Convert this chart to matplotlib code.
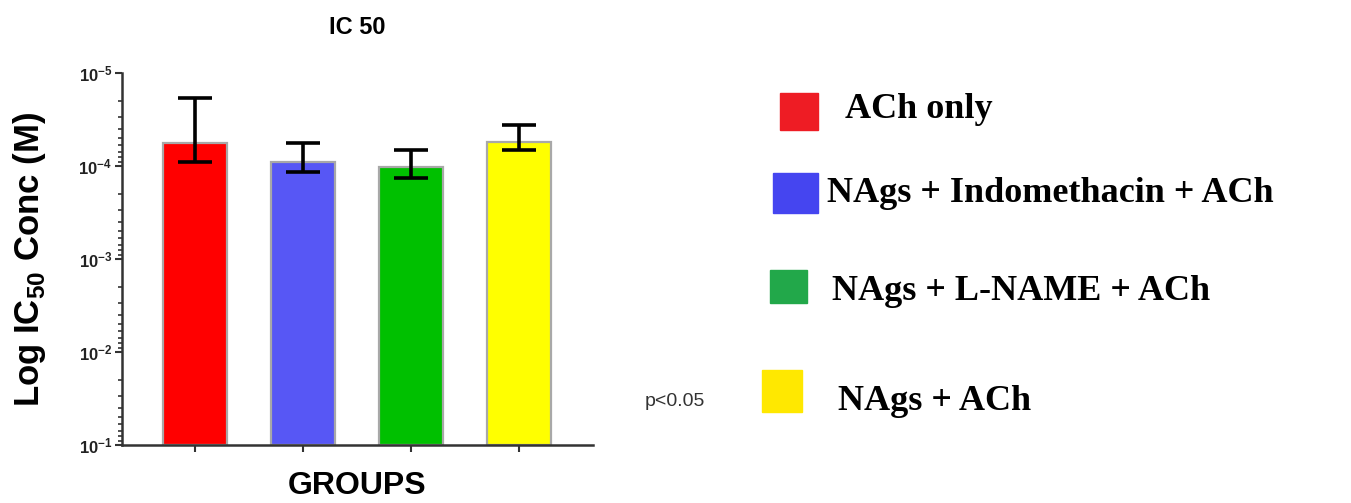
import numpy as np
import matplotlib
matplotlib.use("Agg")
import matplotlib.pyplot as plt

plt.rcParams['font.family'] = ['Liberation Sans', 'DejaVu Sans']
plt.rcParams['mathtext.fontset'] = 'custom'
plt.rcParams['mathtext.rm'] = 'Liberation Sans'
plt.rcParams['mathtext.bf'] = 'Liberation Sans:bold'

# IC50 (M) per group, with the lower / upper ends of the error bars
groups = ['ACh only', 'NAgs + Indomethacin + ACh', 'NAgs + L-NAME + ACh', 'NAgs + ACh']
ic50 = [5.7e-5, 9.0e-5, 1.02e-4, 5.5e-5]
err_low = [1.86e-5, 5.7e-5, 6.7e-5, 3.6e-5]
err_high = [9.06e-5, 1.16e-4, 1.35e-4, 6.7e-5]
colors = ['#ff0000', '#5757f5', '#00c000', '#ffff00']
legend_colors = ['#ee1c24', '#4545f0', '#22a84a', '#ffe800']
y_ticks = [1e-5, 1e-4, 1e-3, 1e-2, 1e-1]
y_ticklabels = [r'$\mathbf{10^{-5}}$', r'$\mathbf{10^{-4}}$', r'$\mathbf{10^{-3}}$',
                r'$\mathbf{10^{-2}}$', r'$\mathbf{10^{-1}}$']

fig = plt.figure(figsize=(13.51, 5.03), dpi=100)
ax = fig.add_axes([122 / 1351, 1 - 445 / 503, 471 / 1351, 372 / 503])

x = np.arange(len(groups))
vals = np.array(ic50)
base = 1e-1
ax.bar(x, vals - base, bottom=base, width=0.6, color=colors,
       edgecolor='#a8a8a8', linewidth=1.6, zorder=2)
yerr = np.array([vals - np.array(err_low), np.array(err_high) - vals])
ax.errorbar(x, vals, yerr=yerr, fmt='none', ecolor='black',
            elinewidth=2.6, capsize=12.5, capthick=2.6, zorder=3)

ax.set_yscale('log')
ax.set_ylim(1e-1, 1e-5)
ax.set_xlim(-0.676, 3.685)
ax.set_yticks(y_ticks)
ax.set_yticklabels(y_ticklabels, fontsize=12, color='#222222')
ax.set_xticks(x)
ax.set_xticklabels([])
ax.tick_params(axis='both', which='major', direction='out', length=5, width=1.5,
               color='#333333', pad=2)
ax.tick_params(axis='y', which='minor', direction='out', length=3, width=1.2,
               color='#333333')
for side in ['top', 'right']:
    ax.spines[side].set_visible(False)
for side in ['left', 'bottom']:
    ax.spines[side].set_linewidth(1.8)
    ax.spines[side].set_color('#333333')

ax.set_title('IC 50', fontsize=17, fontweight='bold', pad=28)
ax.set_ylabel(r'Log IC$_{\mathbf{50}}$ Conc (M)', fontsize=25, fontweight='bold',
              labelpad=22)
ax.set_xlabel('GROUPS', fontsize=23, fontweight='bold', labelpad=12)

# Legend drawn by hand on the right side of the figure
W, H = 1351, 503
boxes = [(780, 93, 38, 37), (773, 173, 45, 40), (770, 270, 37, 33), (762, 370, 40, 42)]
text_pos = [(845, 110), (827, 194), (832, 291), (838, 401)]
for (bx, by, bw, bh), (tx, ty), c, g in zip(boxes, text_pos, legend_colors, groups):
    fig.patches.append(plt.Rectangle((bx / W, 1 - (by + bh) / H), bw / W, bh / H,
                                     transform=fig.transFigure, color=c))
    fig.text(tx / W, 1 - ty / H, g, fontsize=26, fontweight='bold',
             family='Liberation Serif', va='center', ha='left')

fig.text(645 / W, 1 - 401 / H, 'p<0.05', fontsize=14, color='#333333',
         va='center', ha='left')

fig.savefig('out.png', dpi=100)
